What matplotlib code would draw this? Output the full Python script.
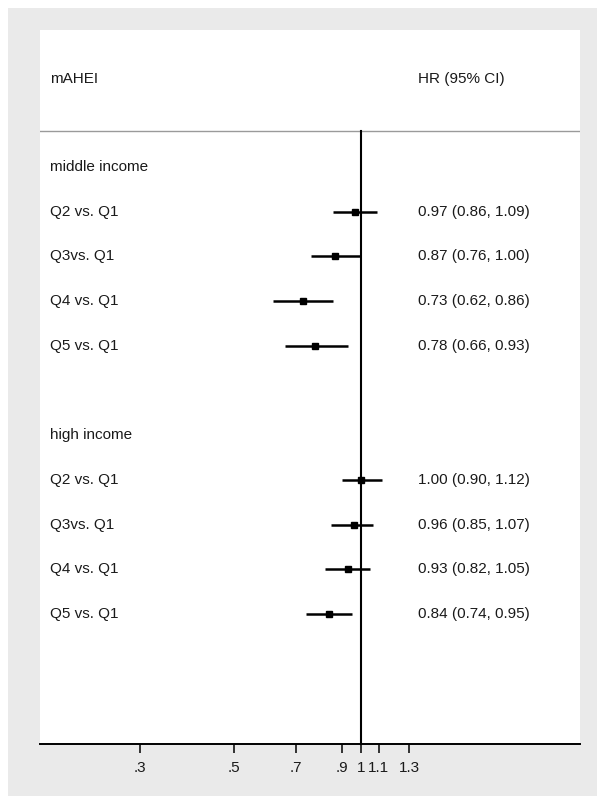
import numpy as np
import matplotlib
matplotlib.use('Agg')
import matplotlib.pyplot as plt
from matplotlib.patches import Rectangle
from matplotlib.ticker import FixedLocator, FixedFormatter, NullLocator

plt.rcParams['font.family'] = ['Liberation Sans', 'DejaVu Sans']

# data
groups = ['middle income', 'high income']
comparisons = ['Q2 vs. Q1', 'Q3vs. Q1', 'Q4 vs. Q1', 'Q5 vs. Q1']
hr_middle = [0.97, 0.87, 0.73, 0.78]
lo_middle = [0.86, 0.76, 0.62, 0.66]
hi_middle = [1.09, 1.00, 0.86, 0.93]
hr_high = [1.00, 0.96, 0.93, 0.84]
lo_high = [0.90, 0.85, 0.82, 0.74]
hi_high = [1.12, 1.07, 1.05, 0.95]
tick_values = [0.3, 0.5, 0.7, 0.9, 1, 1.1, 1.3]
tick_labels = ['.3', '.5', '.7', '.9', '1', '1.1', '1.3']

fig = plt.figure(figsize=(5.97, 7.96), dpi=100, facecolor='white')
# gray graph region
fig.patches.append(Rectangle((8 / 597, 0.0), 1 - 8 / 597, 1 - 8 / 796,
                             transform=fig.transFigure, facecolor='#eaeaea',
                             edgecolor='none', zorder=-10))

ax = fig.add_axes([40 / 597, 52 / 796, 540 / 597, 714 / 796])
ax.set_facecolor('white')
ax.set_xscale('log')
ax.set_xlim(0.1738, 3.299)
y_top, y_bot = -3.065, 12.91
ax.set_ylim(y_bot, y_top)

txt_x_left = 10 / 540
txt_x_right = 378 / 540
trans = ax.get_yaxis_transform()
fs = 11
col = '#1a1a1a'

# header
ax.text(txt_x_left, -1.97, 'mAHEI', transform=trans, ha='left', va='center', fontsize=fs, color=col)
ax.text(txt_x_right, -1.97, 'HR (95% CI)', transform=trans, ha='left', va='center', fontsize=fs, color=col)
sep = -0.8
ax.axhline(sep, color='#9a9a9a', lw=1.0, zorder=1)
ax.plot([1, 1], [sep, y_bot], color='black', lw=1.5, zorder=2, clip_on=False)

blocks = [(hr_middle, lo_middle, hi_middle), (hr_high, lo_high, hi_high)]
row = 0
for g, (hr, lo, hi) in zip(groups, blocks):
    ax.text(txt_x_left, row, g, transform=trans, ha='left', va='center', fontsize=fs, color=col)
    row += 1
    for lab, h, l, u in zip(comparisons, hr, lo, hi):
        ax.text(txt_x_left, row, lab, transform=trans, ha='left', va='center', fontsize=fs, color=col)
        ax.plot([l, u], [row, row], color='black', lw=1.8, solid_capstyle='butt', zorder=3)
        ax.plot([h], [row], marker='s', ms=4.8, color='black', zorder=4)
        ax.text(txt_x_right, row, f'{h:.2f} ({l:.2f}, {u:.2f})', transform=trans,
                ha='left', va='center', fontsize=fs, color=col)
        row += 1
    row += 1

for s in ['top', 'left', 'right']:
    ax.spines[s].set_visible(False)
ax.spines['bottom'].set_color('black')
ax.spines['bottom'].set_linewidth(1.4)
ax.yaxis.set_visible(False)
ax.xaxis.set_major_locator(FixedLocator(tick_values))
ax.xaxis.set_major_formatter(FixedFormatter(tick_labels))
ax.xaxis.set_minor_locator(NullLocator())
ax.tick_params(axis='x', length=6.5, width=1.1, color='black', labelsize=fs,
               labelcolor=col, pad=5.5)

fig.savefig('out.png', dpi=100, facecolor='white')
